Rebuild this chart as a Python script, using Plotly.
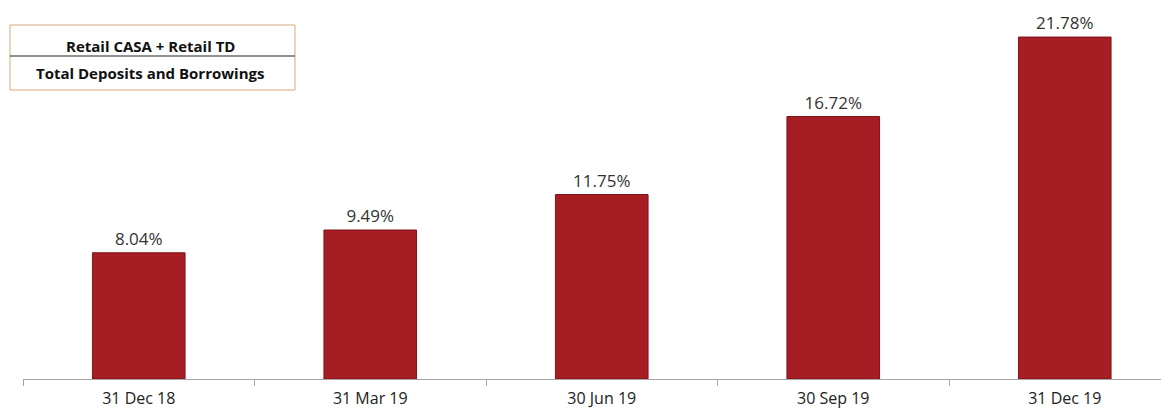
import plotly.graph_objects as go

categories = ["31 Dec 18", "31 Mar 19", "30 Jun 19", "30 Sep 19", "31 Dec 19"]
values = [8.04, 9.49, 11.75, 16.72, 21.78]
labels = ["8.04%", "9.49%", "11.75%", "16.72%", "21.78%"]

OFF = 8  # default page body margin
W, H = 1169 - OFF, 412 - OFF
ML, MR, MT, MB = 23 - OFF, 0, 0, 33
pw = W - ML - MR
ph = H - MT - MB
FONT = "Open Sans, Liberation Sans, sans-serif"

def px(x):
    return (x - OFF - ML) / pw

def py(y):
    return 1 - (y - OFF - MT) / ph

fig = go.Figure()
fig.add_trace(go.Bar(
    x=categories, y=values, text=labels, textposition="outside",
    textfont=dict(family=FONT, size=17, color="#333333"),
    marker=dict(color="#A61D24", line=dict(color="#7E1418", width=1)),
    width=0.4, cliponaxis=False,
))

fig.update_layout(
    width=W, height=H,
    margin=dict(l=ML, r=MR, t=MT, b=MB, autoexpand=False),
    plot_bgcolor="white", paper_bgcolor="white",
    showlegend=False,
    xaxis=dict(
        type="category", range=[-0.5, pw / 231.5 - 0.5], automargin=False,
        showline=True, linecolor="#A6A6A6", linewidth=1,
        ticks="outside", tickson="boundaries", ticklen=6, tickcolor="#A6A6A6",
        ticklabelstandoff=5,
        tickfont=dict(family=FONT, size=16, color="#222222"),
        showgrid=False, zeroline=False,
    ),
    yaxis=dict(range=[0, ph / 15.7], visible=False, automargin=False,
               showgrid=False, zeroline=False),
)

# Formula box
fig.add_shape(type="rect", xref="paper", yref="paper",
              x0=px(10), x1=px(295), y0=py(90), y1=py(25),
              line=dict(color="#D4A97A", width=1), layer="above")
fig.add_shape(type="line", xref="paper", yref="paper",
              x0=px(10), x1=px(295), y0=py(56), y1=py(56),
              line=dict(color="#222222", width=1), layer="above")
fig.add_annotation(xref="paper", yref="paper", x=px(150), y=py(46),
                   xanchor="center", yanchor="middle",
                   text="<b>Retail CASA + Retail TD</b>", showarrow=False,
                   font=dict(family=FONT, size=15, color="#111111"))
fig.add_annotation(xref="paper", yref="paper", x=px(150), y=py(73),
                   xanchor="center", yanchor="middle",
                   text="<b>Total Deposits and Borrowings</b>", showarrow=False,
                   font=dict(family=FONT, size=15, color="#111111"))

fig.write_html("out.html")
